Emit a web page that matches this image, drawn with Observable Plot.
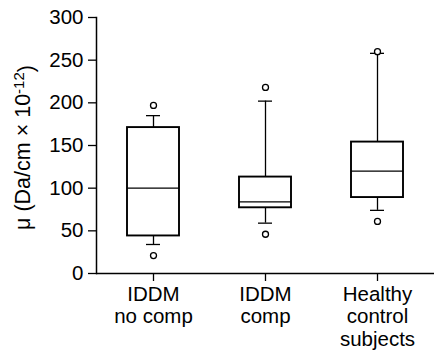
<!DOCTYPE html>
<html>
<head>
<meta charset="utf-8">
<script src="https://cdn.jsdelivr.net/npm/d3@7"></script>
<script src="https://cdn.jsdelivr.net/npm/@observablehq/plot@0.6"></script>
<style>
  html, body { margin: 0; padding: 0; background: #fff; }
  #chart { width: 434px; height: 350px; }
</style>
</head>
<body>
<div id="chart"></div>
<script>
const categories = ["IDDM no comp", "IDDM comp", "Healthy control subjects"];
const tickLabels = ["IDDM\nno comp", "IDDM\ncomp", "Healthy\ncontrol\nsubjects"];
const whiskerLow = [34, 59, 74];
const q1 = [44, 77, 89];
const median = [100, 84, 120];
const q3 = [171, 113, 154];
const whiskerHigh = [185, 202, 258];
const outlierLow = [21, 46, 61];
const outlierHigh = [197, 218, 260];
const yTicks = [0, 50, 100, 150, 200, 250, 300];
const yLabelMain = "μ (Da/cm × 10";
const yLabelSup = "-12";
const yLabelEnd = ")";

const boxes = categories.map((c, i) => ({
  cat: c, lo: whiskerLow[i], q1: q1[i], med: median[i], q3: q3[i], hi: whiskerHigh[i]
}));
const outliers = categories.flatMap((c, i) => [
  {cat: c, v: outlierLow[i]}, {cat: c, v: outlierHigh[i]}
]);
const labelOf = new Map(categories.map((c, i) => [c, tickLabels[i]]));

const chart = Plot.plot({
  width: 434,
  height: 350,
  marginLeft: 96,
  marginRight: 0,
  marginTop: 17,
  marginBottom: 77,
  style: {fontFamily: "'Liberation Sans', Arial, sans-serif", fontSize: "20.5px", color: "#000", background: "#fff"},
  x: {type: "band", domain: categories, padding: 0},
  y: {domain: [0, 300]},
  marks: [
    Plot.axisY({ticks: yTicks, tickSize: 8, tickPadding: 5, label: null, fontSize: 20.5, strokeWidth: 1.3}),
    Plot.axisX({tickSize: 8, tickPadding: 3, label: null, fontSize: 20.5, strokeWidth: 1.3, lineHeight: 1.1,
      tickFormat: d => labelOf.get(d)}),
    Plot.frame({anchor: "left", strokeWidth: 1.5}),
    Plot.ruleY([0], {strokeWidth: 1.5}),
    Plot.ruleX(boxes, {x: "cat", y1: "lo", y2: "hi", strokeWidth: 1.3}),
    Plot.tickY(boxes, {x: "cat", y: "lo", insetLeft: 49, insetRight: 49, strokeWidth: 1.3}),
    Plot.tickY(boxes, {x: "cat", y: "hi", insetLeft: 49, insetRight: 49, strokeWidth: 1.3}),
    Plot.barY(boxes, {x: "cat", y1: "q1", y2: "q3", fill: "white", stroke: "black", strokeWidth: 1.9, insetLeft: 30, insetRight: 30}),
    Plot.tickY(boxes, {x: "cat", y: "med", insetLeft: 30, insetRight: 30, strokeWidth: 1.3}),
    Plot.dot(outliers, {x: "cat", y: "v", r: 3, fill: "white", stroke: "black", strokeWidth: 1.3}),
    Plot.text([yLabelMain + yLabelSup + yLabelEnd], {text: d => d, frameAnchor: "left", rotate: -90, dx: -73, dy: 2,
      textAnchor: "middle", fontSize: 21.5, className: "ylabel"})
  ]
});
// turn the exponent of the y label into a real superscript
const lbl = chart.querySelector(".ylabel text");
if (lbl) {
  lbl.textContent = "";
  const ns = "http://www.w3.org/2000/svg";
  const parts = [[yLabelMain, null, null], [yLabelSup, "-0.42em", "15px"], [yLabelEnd, "0.42em", null]];
  for (const [s, dy, fs] of parts) {
    const ts = document.createElementNS(ns, "tspan");
    ts.textContent = s;
    if (dy) ts.setAttribute("dy", dy);
    if (fs) ts.setAttribute("font-size", fs);
    lbl.appendChild(ts);
  }
}
document.getElementById("chart").appendChild(chart);
</script>
</body>
</html>
